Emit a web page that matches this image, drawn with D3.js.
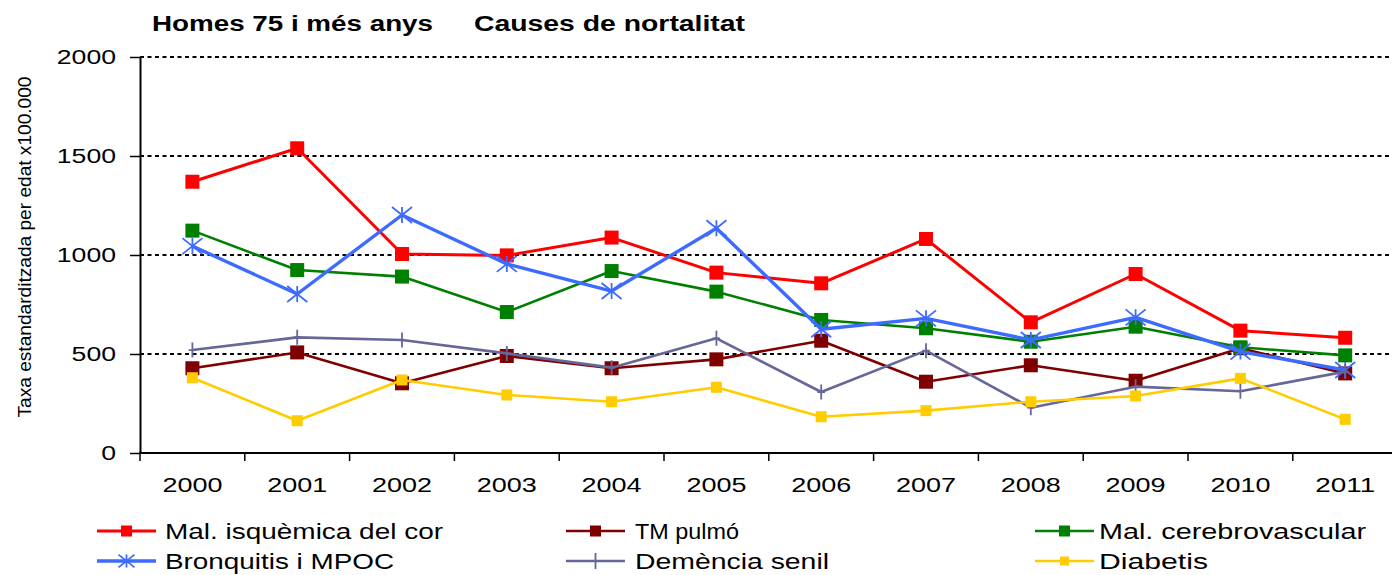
<!DOCTYPE html>
<html>
<head>
<meta charset="utf-8">
<script src="https://cdn.jsdelivr.net/npm/d3@7"></script>
<style>
  html, body { margin: 0; padding: 0; background: #fff; }
  svg { display: block; font-family: "Liberation Sans", Arial, sans-serif; }
</style>
</head>
<body>
<svg id="chart" width="1392" height="575"></svg>
<script>
// Years on the category axis
const years = ["2000","2001","2002","2003","2004","2005","2006","2007","2008","2009","2010","2011"];

// Age-standardised mortality rate per 100.000, men aged 75+
const isquemica      = [1370, 1539, 1005, 998, 1088, 911, 857, 1081, 660, 904, 618, 582];
const tmPulmo        = [428, 508, 352, 490, 428, 473, 567, 360, 443, 365, 529, 402];
const cerebrovasc    = [1123, 924, 891, 712, 919, 815, 672, 630, 562, 638, 534, 493];
const bronquitis     = [1045, 803, 1202, 955, 818, 1135, 625, 680, 571, 685, 512, 419];
const demencia       = [520, 584, 571, 503, 431, 579, 308, 517, 229, 335, 312, 411];
const diabetis       = [380, 163, 369, 293, 259, 332, 183, 214, 259, 288, 377, 170];

const seriesNames = ["Mal. isquèmica del cor", "TM pulmó", "Mal. cerebrovascular",
                     "Bronquitis i MPOC", "Demència senil", "Diabetis"];
const seriesValues = [isquemica, tmPulmo, cerebrovasc, bronquitis, demencia, diabetis];

const yTicks = [0, 500, 1000, 1500, 2000];

// Styling per series (drawn in this order)
const styles = [
  { color: "#ff0000", width: 3,   marker: "square", size: 14 },
  { color: "#7f0000", width: 2.6, marker: "square", size: 14 },
  { color: "#008000", width: 2.6, marker: "square", size: 14 },
  { color: "#3d6bff", width: 3.4, marker: "star",   size: 20 },
  { color: "#666699", width: 2.6, marker: "plus",   size: 15 },
  { color: "#ffcc00", width: 2.6, marker: "square", size: 11 }
];

// Legend placement: symbol start x, row, text start x, text length
const legendLayout = [
  { x: 97,   row: 0, tx: 165,  len: 278 },
  { x: 566,  row: 0, tx: 635,  len: 104 },
  { x: 1035, row: 0, tx: 1099, len: 267 },
  { x: 97,   row: 1, tx: 165,  len: 229 },
  { x: 566,  row: 1, tx: 635,  len: 194 },
  { x: 1035, row: 1, tx: 1099, len: 109 }
];

const svg = d3.select("#chart");
const plotLeft = 140, plotTop = 57, plotBottom = 453, plotRight = 1392;

const x = d3.scaleBand().domain(years).range([plotLeft, plotLeft + 12 * 104.8]).paddingInner(0).paddingOuter(0);
const y = d3.scaleLinear().domain([0, 2000]).range([plotBottom, plotTop]);
const cx = d => x(d) + x.bandwidth() / 2;

// Dotted gridlines
svg.append("g").selectAll("line")
  .data(yTicks.filter(t => t > 0))
  .join("line")
  .attr("x1", plotLeft).attr("x2", plotRight)
  .attr("y1", d => y(d)).attr("y2", d => y(d))
  .attr("stroke", "#000").attr("stroke-width", 2)
  .attr("stroke-dasharray", "4,3.5");

// Y axis
const yAxis = svg.append("g")
  .attr("transform", `translate(${plotLeft},0)`)
  .call(d3.axisLeft(y).tickValues(yTicks).tickSizeInner(10).tickSizeOuter(0).tickPadding(14).tickFormat(d3.format("d")));
yAxis.select(".domain").attr("stroke", "#000").attr("stroke-width", 2);
yAxis.selectAll(".tick line").attr("stroke", "#000").attr("stroke-width", 1.5);
yAxis.selectAll(".tick text")
  .attr("font-size", 20).attr("fill", "#000")
  .attr("font-family", "Liberation Sans, Arial, sans-serif")
  .attr("textLength", d => String(d).length * 14.8)
  .attr("lengthAdjust", "spacingAndGlyphs");

// X axis line and labels
const xAxis = svg.append("g")
  .attr("transform", `translate(0,${plotBottom})`)
  .call(d3.axisBottom(x).tickSize(0).tickPadding(25));
xAxis.select(".domain").remove();
xAxis.selectAll(".tick text")
  .attr("font-size", 20).attr("fill", "#000")
  .attr("font-family", "Liberation Sans, Arial, sans-serif")
  .attr("textLength", 60)
  .attr("lengthAdjust", "spacingAndGlyphs");
svg.append("line")
  .attr("x1", plotLeft - 1).attr("x2", plotRight)
  .attr("y1", plotBottom).attr("y2", plotBottom)
  .attr("stroke", "#000").attr("stroke-width", 2);
// Category boundary ticks
svg.append("g").selectAll("line")
  .data(years.map(d => x(d)).concat([x(years[years.length - 1]) + x.bandwidth()]))
  .join("line")
  .attr("x1", d => d).attr("x2", d => d)
  .attr("y1", plotBottom).attr("y2", plotBottom + 8)
  .attr("stroke", "#000").attr("stroke-width", 1.5);

// Y axis title
svg.append("text")
  .attr("transform", `translate(31,247) rotate(-90)`)
  .attr("text-anchor", "middle")
  .attr("font-size", 18)
  .attr("textLength", 341).attr("lengthAdjust", "spacingAndGlyphs")
  .text("Taxa estandarditzada per edat x100.000");

// Chart title
svg.append("text").attr("x", 152).attr("y", 31)
  .attr("font-size", 22).attr("font-weight", "bold")
  .attr("textLength", 281).attr("lengthAdjust", "spacingAndGlyphs")
  .text("Homes 75 i més anys");
svg.append("text").attr("x", 474).attr("y", 31)
  .attr("font-size", 22).attr("font-weight", "bold")
  .attr("textLength", 271).attr("lengthAdjust", "spacingAndGlyphs")
  .text("Causes de nortalitat");

// Marker drawing
function drawMarker(g, type, size, color) {
  const h = size / 2;
  if (type === "square") {
    g.append("rect").attr("x", -h).attr("y", -h).attr("width", size).attr("height", size).attr("fill", color);
  } else if (type === "star") {
    const hy = h * 0.8;
    g.append("path")
      .attr("d", `M0,${-hy}V${hy}M${-h},${-hy}L${h},${hy}M${-h},${hy}L${h},${-hy}`)
      .attr("stroke", color).attr("stroke-width", 1.8).attr("fill", "none");
  } else if (type === "plus") {
    g.append("path")
      .attr("d", `M0,${-h}V${h}M${-h * 0.5},0H${h * 0.5}`)
      .attr("stroke", color).attr("stroke-width", 1.8).attr("fill", "none");
  }
}

const line = d3.line().x((d, i) => cx(years[i])).y(d => y(d));

seriesValues.forEach((vals, si) => {
  const st = styles[si];
  const g = svg.append("g");
  g.append("path").datum(vals)
    .attr("d", line)
    .attr("fill", "none").attr("stroke", st.color).attr("stroke-width", st.width)
    .attr("stroke-linejoin", "round");
  vals.forEach((v, i) => {
    const m = g.append("g").attr("transform", `translate(${cx(years[i])},${y(v)})`);
    drawMarker(m, st.marker, st.size, st.color);
  });
});

// Legend
const rowY = [531, 561];
seriesNames.forEach((name, si) => {
  const st = styles[si];
  const L = legendLayout[si];
  const yy = rowY[L.row];
  const g = svg.append("g");
  g.append("line").attr("x1", L.x).attr("x2", L.x + 59).attr("y1", yy).attr("y2", yy)
    .attr("stroke", st.color).attr("stroke-width", st.width);
  const m = g.append("g").attr("transform", `translate(${L.x + 29.5},${yy})`);
  drawMarker(m, st.marker, st.marker === "square" ? (si === 5 ? 9 : 11) : 16, st.color);
  g.append("text").attr("x", L.tx).attr("y", yy + 8)
    .attr("font-size", 22)
    .attr("textLength", L.len).attr("lengthAdjust", "spacingAndGlyphs")
    .text(name);
});
</script>
</body>
</html>
